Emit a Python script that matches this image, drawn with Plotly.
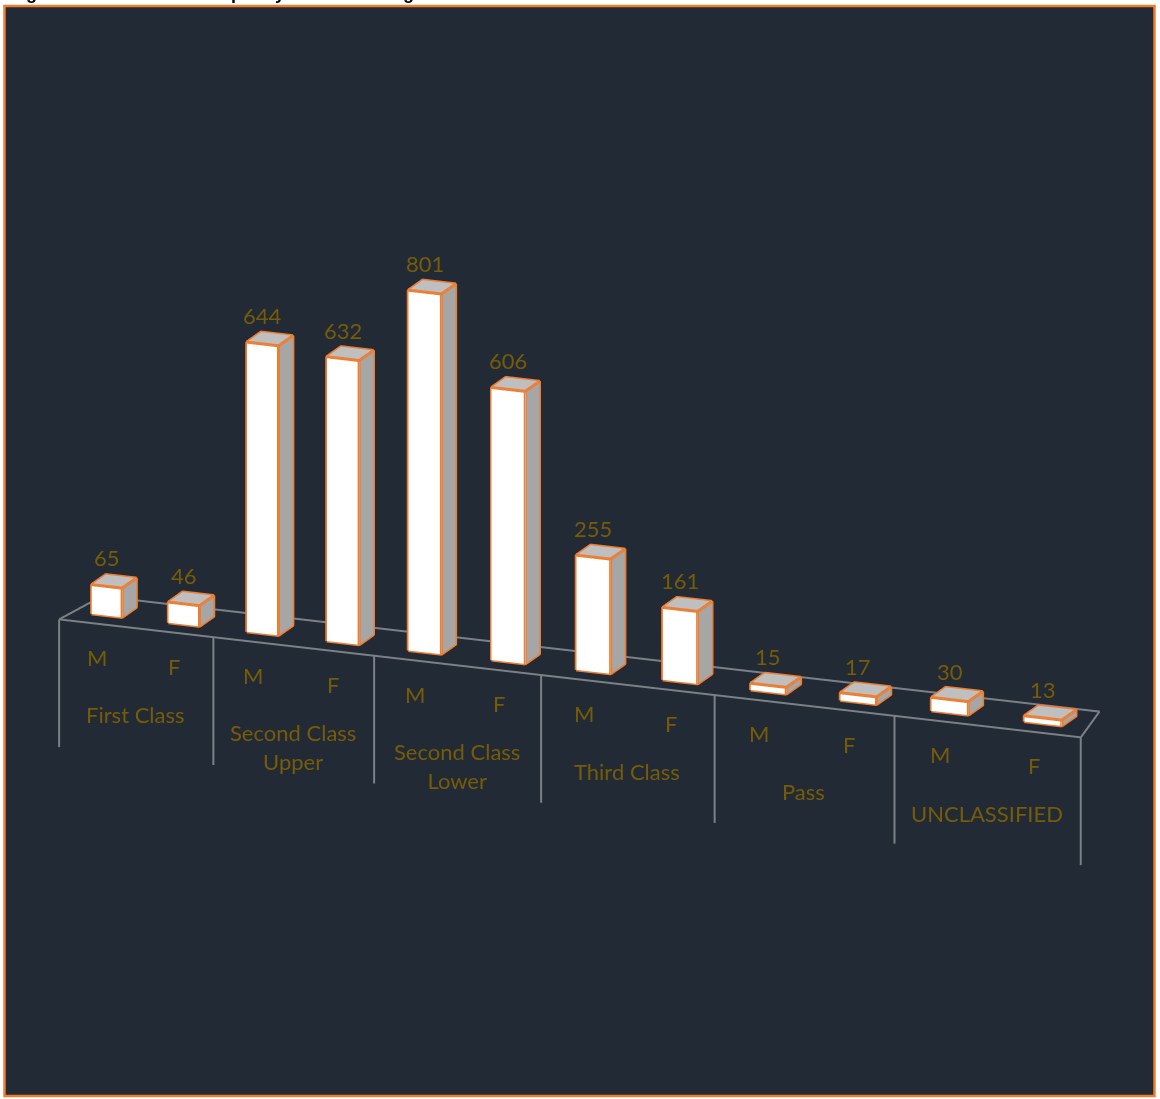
import plotly.graph_objects as go

groups = ["First Class", "Second Class<br>Upper", "Second Class<br>Lower", "Third Class", "Pass", "UNCLASSIFIED"]
genders = ["M", "F"] * 6
values = [65, 46, 644, 632, 801, 606, 255, 161, 15, 17, 30, 13]

BAR_C = 0.48
BAR_W = 0.40
D0, D1 = 0.33, 0.75
DROP = -284
ORANGE = "#ed7d31"
GREY = "#7b8087"
GOLD = "#765c08"
FONT = "Lato"
FORESHORTEN = 0.0094   # the reference's category spacing widens from left to right


def X(u):
    return u + FORESHORTEN * u * (u - 12)


def faces(i, v):
    l, r = X(i + BAR_C - BAR_W / 2), X(i + BAR_C + BAR_W / 2)
    front = [(l, D0, 0), (r, D0, 0), (r, D0, v), (l, D0, v)]
    side = [(r, D0, 0), (r, D1, 0), (r, D1, v), (r, D0, v)]
    top = [(l, D0, v), (r, D0, v), (r, D1, v), (l, D1, v)]
    return front, side, top


def mesh(quads, color):
    xs, ys, zs, a, b, c = [], [], [], [], [], []
    for q in quads:
        n = len(xs)
        for p in q:
            xs.append(p[0]); ys.append(p[1]); zs.append(p[2])
        a += [n, n]; b += [n + 1, n + 2]; c += [n + 2, n + 3]
    return go.Mesh3d(x=xs, y=ys, z=zs, i=a, j=b, k=c, color=color, flatshading=True,
                     lighting=dict(ambient=1, diffuse=0, specular=0, roughness=1, fresnel=0),
                     hoverinfo="skip", showscale=False)


def lines(segs, color, width):
    xs, ys, zs = [], [], []
    for seg in segs:
        for p in seg:
            xs.append(p[0]); ys.append(p[1]); zs.append(p[2])
        xs.append(None); ys.append(None); zs.append(None)
    return go.Scatter3d(x=xs, y=ys, z=zs, mode="lines", line=dict(color=color, width=width),
                        hoverinfo="skip", showlegend=False, connectgaps=False)


all_faces = [faces(i, v) for i, v in enumerate(values)]
fig = go.Figure()
fig.add_trace(mesh([f[0] for f in all_faces], "#ffffff"))
fig.add_trace(mesh([f[1] for f in all_faces], "#a6a6a6"))
fig.add_trace(mesh([f[2] for f in all_faces], "#bfbfbf"))

edges = []
for front, side, top in all_faces:
    for q in (front, side, top):
        edges.append(q + [q[0]])
fig.add_trace(lines(edges, ORANGE, 6))

floor = [[(0, 0, 0), (12, 0, 0), (11.82, 1, 0), (0.1, 1, 0), (0, 0, 0)]]
floor += [[(X(u), 0, 0), (X(u), 0, DROP)] for u in range(0, 13, 2)]
fig.add_trace(lines(floor, GREY, 4))

ann = []
for i, v in enumerate(values):
    ann.append(dict(x=X(i + BAR_C), y=D0, z=v, text=str(v), showarrow=False, yanchor="bottom",
                    yshift=13, font=dict(family=FONT, size=22, color=GOLD)))
    ann.append(dict(x=X(i + 0.5), y=0, z=-75, text=genders[i], showarrow=False,
                    font=dict(family=FONT, size=22, color=GOLD)))
for g, name in enumerate(groups):
    ann.append(dict(x=X(2 * g + 1), y=0, z=-158, text=name, showarrow=False, yanchor="top",
                    font=dict(family=FONT, size=22, color=GOLD)))

hidden = dict(visible=False, showbackground=False, showgrid=False, zeroline=False,
              showticklabels=False, showspikes=False, title="")
xa = dict(hidden, range=[-0.164, 12])
ya = dict(hidden, range=[0, 1])
za = dict(hidden, range=[-342, 858])

d = 2.2
ex, ey, ez = 0.375 * 0.9583, -0.927 * 0.9583, 0.2855
fig.update_layout(
    width=1160, height=1099, margin=dict(l=0, r=0, t=0, b=0), autosize=False,
    paper_bgcolor="#ffffff", showlegend=False,
    scene=dict(
        domain=dict(x=[0, 1], y=[0, 1]), bgcolor="rgba(0,0,0,0)",
        xaxis=xa, yaxis=ya, zaxis=za,
        aspectmode="manual", aspectratio=dict(x=2.033, y=0.165, z=1.025),
        camera=dict(eye=dict(x=ex * d, y=ey * d, z=ez * d), center=dict(x=0, y=0, z=0),
                    up=dict(x=0, y=0, z=1), projection=dict(type="orthographic")),
        annotations=ann, dragmode=False,
    ),
    shapes=[dict(type="rect", xref="paper", yref="paper", x0=4.5 / 1160, x1=1154.5 / 1160,
                 y0=1 - 1096 / 1099, y1=1 - 6 / 1099, layer="below",
                 line=dict(color=ORANGE, width=2.5), fillcolor="#222b35")],
    annotations=[dict(xref="paper", yref="paper", x=8 / 1160, y=1, xanchor="left", yanchor="bottom",
                      yshift=-5, showarrow=False, text="<b>Figure 4.12: Graduate Output by Class and Degree</b>",
                      font=dict(family="Liberation Sans", size=18, color="#000000"))],
)
fig.write_html("out.html", config=dict(displayModeBar=False, responsive=False),
               post_script="document.body.style.margin='0';document.body.style.overflow='hidden';")
